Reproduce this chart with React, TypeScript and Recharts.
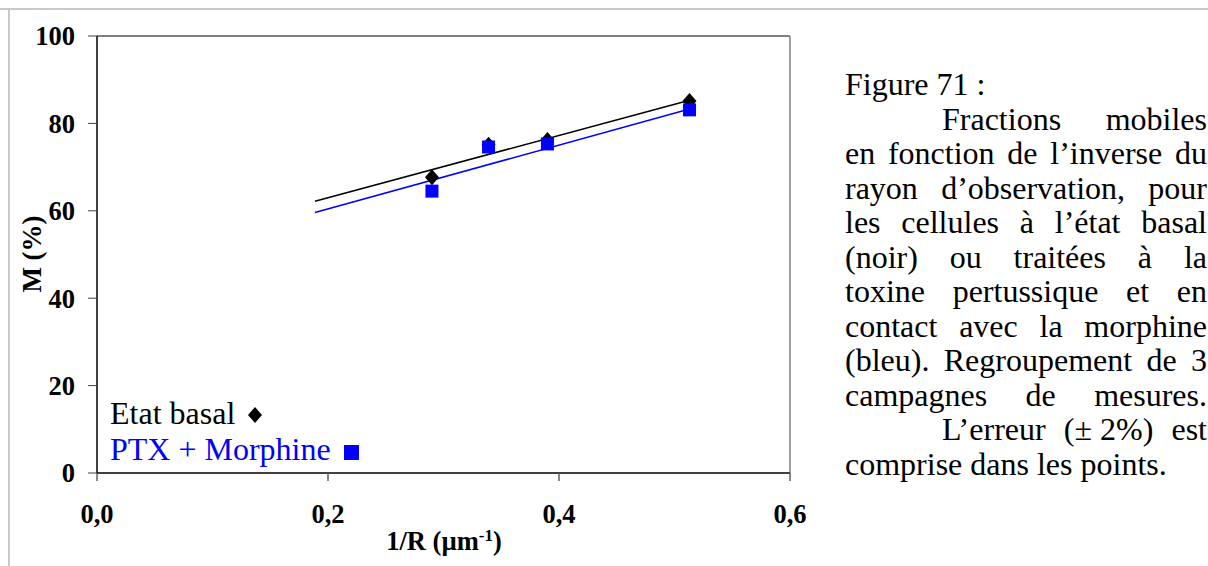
import React from "react";
import {
  ScatterChart,
  Scatter,
  XAxis,
  YAxis,
  ReferenceLine,
} from "recharts";

// 1/R (µm-1) for each observation radius
const invRadius = [0.29, 0.339, 0.39, 0.513];
// mobile fractions M (%)
const basalValues = [67.7, 75.1, 76.2, 85.1];
const ptxValues = [64.5, 74.6, 75.3, 83.1];
// trend line ends
const fitX = [0.1887, 0.513];
const basalFitY = [62.2, 85.3];
const ptxFitY = [59.6, 83.3];

const xTicks = [0, 0.2, 0.4, 0.6];
const yTicks = [0, 20, 40, 60, 80, 100];

// words kept together are given as arrays
const captionLines: { words: string[]; justify: boolean; indent: boolean }[] = [
  { words: ["Figure 71 :"], justify: false, indent: false },
  { words: ["Fractions", "mobiles"], justify: true, indent: true },
  { words: ["en", "fonction", "de", "l\u2019inverse", "du"], justify: true, indent: false },
  { words: ["rayon", "d\u2019observation,", "pour"], justify: true, indent: false },
  { words: ["les", "cellules", "\u00e0", "l\u2019\u00e9tat", "basal"], justify: true, indent: false },
  { words: ["(noir)", "ou", "trait\u00e9es", "\u00e0", "la"], justify: true, indent: false },
  { words: ["toxine", "pertussique", "et", "en"], justify: true, indent: false },
  { words: ["contact", "avec", "la", "morphine"], justify: true, indent: false },
  { words: ["(bleu).", "Regroupement", "de", "3"], justify: true, indent: false },
  { words: ["campagnes", "de", "mesures."], justify: true, indent: false },
  { words: ["L\u2019erreur", "(\u00b1 2%)", "est"], justify: true, indent: true },
  { words: ["comprise dans les points."], justify: false, indent: false },
];

const SERIF = "'Liberation Serif', 'Times New Roman', serif";

const basalData = invRadius.map((x, i) => ({ x, y: basalValues[i] }));
const ptxData = invRadius.map((x, i) => ({ x, y: ptxValues[i] }));
const basalFit = fitX.map((x, i) => ({ x, y: basalFitY[i] }));
const ptxFit = fitX.map((x, i) => ({ x, y: ptxFitY[i] }));

const Diamond = (props: any) => {
  const { cx, cy } = props;
  return (
    <polygon
      points={`${cx},${cy - 8} ${cx + 7},${cy} ${cx},${cy + 8} ${cx - 7},${cy}`}
      fill="#000"
    />
  );
};

const Square = (props: any) => {
  const { cx, cy } = props;
  return <rect x={cx - 6.5} y={cy - 6.5} width={13} height={13} fill="#0000ff" />;
};

const NoDot = () => <g />;

const tickStyle = {
  fontFamily: SERIF,
  fontSize: 26.5,
  fontWeight: "bold",
  fill: "#000",
};

export default function App() {
  return (
    <div
      style={{
        position: "absolute",
        left: 0,
        top: 0,
        width: 1208,
        height: 566,
        background: "#fff",
        overflow: "hidden",
        fontFamily: SERIF,
      }}
    >
      <div style={{ position: "absolute", left: 0, top: 8, width: 1208, height: 2, background: "#c8c8c8" }} />
      <div style={{ position: "absolute", left: 8, top: 8, width: 2, height: 558, background: "#c8c8c8" }} />

      <div style={{ position: "absolute", left: 0, top: 0 }}>
        <ScatterChart
          width={810}
          height={566}
          margin={{ top: 36, right: 20, bottom: 33, left: 37 }}
        >
          <XAxis
            type="number"
            dataKey="x"
            domain={[0, 0.6]}
            ticks={xTicks}
            tickFormatter={(v: number) => v.toFixed(1).replace(".", ",")}
            tick={tickStyle}
            tickSize={8}
            tickMargin={23}
            height={60}
            axisLine={{ stroke: "#404040", strokeWidth: 2 }}
            tickLine={{ stroke: "#606060", strokeWidth: 1.5 }}
          />
          <YAxis
            type="number"
            dataKey="y"
            domain={[0, 100]}
            ticks={yTicks}
            tick={tickStyle}
            tickSize={9}
            tickMargin={13}
            width={60}
            axisLine={{ stroke: "#000", strokeWidth: 1.5 }}
            tickLine={{ stroke: "#404040", strokeWidth: 1 }}
          />
          <ReferenceLine y={100} stroke="#000" strokeWidth={1.2} />
          <ReferenceLine x={0.6} stroke="#808080" strokeWidth={1.5} />
          <Scatter
            data={ptxFit}
            line={{ stroke: "#0000ff", strokeWidth: 1.5 }}
            shape={NoDot}
            isAnimationActive={false}
          />
          <Scatter
            data={basalFit}
            line={{ stroke: "#000", strokeWidth: 1.5 }}
            shape={NoDot}
            isAnimationActive={false}
          />
          <Scatter data={basalData} shape={Diamond} isAnimationActive={false} />
          <Scatter data={ptxData} shape={Square} isAnimationActive={false} />
        </ScatterChart>
      </div>

      {/* axis titles */}
      <div
        style={{
          position: "absolute",
          left: 32,
          top: 254,
          transform: "translate(-50%, -50%) rotate(-90deg)",
          fontSize: 27,
          fontWeight: "bold",
          whiteSpace: "nowrap",
          lineHeight: 1,
        }}
      >
        M (%)
      </div>
      <div
        style={{
          position: "absolute",
          left: 444,
          top: 528,
          transform: "translateX(-50%)",
          fontSize: 26.5,
          fontWeight: "bold",
          whiteSpace: "nowrap",
          lineHeight: 1,
        }}
      >
        1/R (µm<sup style={{ fontSize: 17, verticalAlign: "9px", lineHeight: 0 }}>-1</sup>)
      </div>

      {/* legend */}
      <div style={{ position: "absolute", left: 110, top: 395, fontSize: 32, lineHeight: "36px", whiteSpace: "nowrap" }}>
        <div style={{ color: "#000" }}>
          Etat basal{" "}
          <svg width={16} height={18} style={{ marginLeft: 5 }}>
            <polygon points="7,1 14,9 7,17 0,9" fill="#000" />
          </svg>
        </div>
        <div style={{ color: "#0000ff" }}>
          PTX + Morphine{" "}
          <svg width={16} height={15} style={{ marginLeft: 5 }}>
            <rect x={0} y={0} width={15} height={15} fill="#0000ff" />
          </svg>
        </div>
      </div>

      {/* caption */}
      <div style={{ position: "absolute", left: 845, top: 67, width: 362, fontSize: 32, color: "#000" }}>
        {captionLines.map((l, i) => (
          <div
            key={i}
            style={{
              height: 34.5,
              lineHeight: "34.5px",
              whiteSpace: "nowrap",
              paddingLeft: l.indent ? 97 : 0,
              display: "flex",
              justifyContent: l.justify ? "space-between" : "flex-start",
            }}
          >
            {l.words.map((w, j) => (
              <span key={j} style={{ whiteSpace: "pre" }}>
                {w}
              </span>
            ))}
          </div>
        ))}
      </div>
    </div>
  );
}
